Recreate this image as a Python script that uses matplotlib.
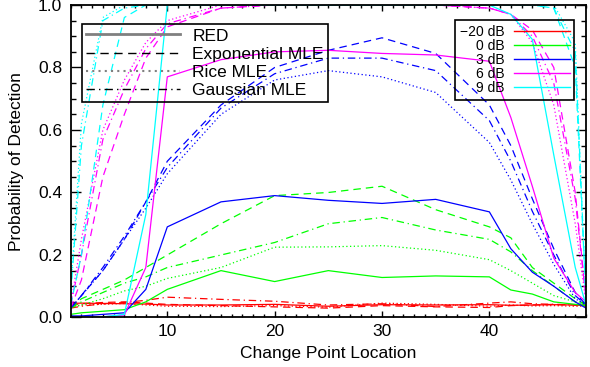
import matplotlib
matplotlib.use("Agg")
import matplotlib.pyplot as plt
from matplotlib.lines import Line2D
from matplotlib.ticker import MultipleLocator

plt.rcParams['font.family'] = ['Liberation Sans', 'DejaVu Sans']

# change point locations
x_loc = [1, 2, 4, 6, 8, 10, 15, 20, 25, 30, 35, 40, 42, 44, 46, 48, 49]

snr_labels = ['\u221220 dB', '0 dB', '3 dB', '6 dB', '9 dB']
snr_colors = ['#ff0000', '#00ff00', '#0000ff', '#ff00ff', '#00ffff']
method_labels = ['RED', 'Exponential MLE', 'Rice MLE', 'Gaussian MLE']

# -20 dB
red_m20 = [0.045, 0.046, 0.045, 0.044, 0.043, 0.040, 0.040, 0.042, 0.036, 0.041, 0.040, 0.041, 0.039, 0.040, 0.041, 0.040, 0.040]
exp_m20 = [0.040, 0.044, 0.048, 0.050, 0.046, 0.042, 0.038, 0.034, 0.030, 0.038, 0.034, 0.032, 0.038, 0.040, 0.042, 0.040, 0.039]
rice_m20 = [0.035, 0.040, 0.042, 0.045, 0.040, 0.036, 0.035, 0.038, 0.033, 0.046, 0.042, 0.036, 0.040, 0.037, 0.038, 0.036, 0.036]
gauss_m20 = [0.030, 0.036, 0.044, 0.048, 0.055, 0.065, 0.058, 0.052, 0.040, 0.044, 0.035, 0.046, 0.050, 0.044, 0.042, 0.040, 0.039]

# 0 dB
red_0 = [0.010, 0.015, 0.020, 0.025, 0.050, 0.090, 0.150, 0.115, 0.150, 0.128, 0.133, 0.130, 0.088, 0.075, 0.050, 0.042, 0.038]
exp_0 = [0.030, 0.060, 0.090, 0.120, 0.160, 0.200, 0.300, 0.390, 0.400, 0.420, 0.345, 0.290, 0.255, 0.160, 0.110, 0.060, 0.040]
rice_0 = [0.030, 0.040, 0.060, 0.085, 0.100, 0.125, 0.160, 0.225, 0.226, 0.230, 0.215, 0.185, 0.150, 0.110, 0.070, 0.050, 0.040]
gauss_0 = [0.030, 0.050, 0.080, 0.110, 0.130, 0.160, 0.200, 0.240, 0.300, 0.320, 0.280, 0.250, 0.210, 0.150, 0.100, 0.050, 0.040]

# 3 dB
red_3 = [0.005, 0.005, 0.010, 0.015, 0.090, 0.290, 0.370, 0.390, 0.375, 0.365, 0.378, 0.338, 0.220, 0.145, 0.100, 0.050, 0.030]
exp_3 = [0.030, 0.070, 0.150, 0.250, 0.370, 0.500, 0.680, 0.800, 0.855, 0.895, 0.845, 0.680, 0.550, 0.380, 0.220, 0.080, 0.040]
rice_3 = [0.030, 0.070, 0.150, 0.250, 0.350, 0.460, 0.650, 0.760, 0.790, 0.770, 0.720, 0.560, 0.440, 0.300, 0.170, 0.060, 0.040]
gauss_3 = [0.030, 0.070, 0.160, 0.260, 0.370, 0.480, 0.670, 0.780, 0.830, 0.830, 0.790, 0.630, 0.500, 0.340, 0.200, 0.070, 0.040]

# 6 dB
red_6 = [0.000, 0.000, 0.002, 0.008, 0.160, 0.770, 0.825, 0.850, 0.855, 0.845, 0.840, 0.820, 0.640, 0.420, 0.190, 0.080, 0.050]
exp_6 = [0.030, 0.120, 0.450, 0.650, 0.830, 0.930, 0.990, 1.000, 1.000, 1.000, 1.000, 0.990, 0.970, 0.920, 0.800, 0.400, 0.060]
rice_6 = [0.040, 0.250, 0.600, 0.760, 0.880, 0.950, 1.000, 1.000, 1.000, 1.000, 1.000, 0.990, 0.970, 0.880, 0.680, 0.300, 0.050]
gauss_6 = [0.040, 0.200, 0.570, 0.730, 0.860, 0.940, 0.990, 1.000, 1.000, 1.000, 1.000, 0.990, 0.970, 0.900, 0.750, 0.380, 0.060]

# 9 dB
red_9 = [0.000, 0.000, 0.002, 0.010, 0.330, 1.000, 1.000, 1.000, 1.000, 1.000, 1.000, 1.000, 0.970, 0.890, 0.520, 0.160, 0.040]
exp_9 = [0.040, 0.200, 0.680, 0.960, 1.000, 1.000, 1.000, 1.000, 1.000, 1.000, 1.000, 1.000, 1.000, 1.000, 0.990, 0.800, 0.060]
rice_9 = [0.080, 0.620, 0.960, 1.000, 1.000, 1.000, 1.000, 1.000, 1.000, 1.000, 1.000, 1.000, 1.000, 1.000, 1.000, 0.880, 0.050]
gauss_9 = [0.070, 0.550, 0.950, 0.990, 1.000, 1.000, 1.000, 1.000, 1.000, 1.000, 1.000, 1.000, 1.000, 1.000, 0.990, 0.850, 0.060]

series = [
    [red_m20, exp_m20, rice_m20, gauss_m20],
    [red_0, exp_0, rice_0, gauss_0],
    [red_3, exp_3, rice_3, gauss_3],
    [red_6, exp_6, rice_6, gauss_6],
    [red_9, exp_9, rice_9, gauss_9],
]

styles = ['-', (0, (6, 4)), (0, (1, 2)), (0, (6, 3, 1, 3))]

fig = plt.figure(figsize=(5.9, 3.67), dpi=100)
ax = fig.add_axes([0.1198, 0.1349, 0.8734, 0.8515])

for color, group in zip(snr_colors, series):
    for ls, vals in zip(styles, group):
        ax.plot(x_loc, vals, color=color, linestyle=ls, linewidth=0.9)

ax.set_xlim(1, 49)
ax.set_ylim(0, 1)
ax.xaxis.set_major_locator(MultipleLocator(10))
ax.xaxis.set_minor_locator(MultipleLocator(1))
ax.yaxis.set_major_locator(MultipleLocator(0.2))
ax.yaxis.set_minor_locator(MultipleLocator(0.05))
ax.yaxis.set_major_formatter(plt.FormatStrFormatter('%.1f'))
ax.tick_params(axis='both', which='both', direction='in', top=True, right=True,
               labelsize=12.5, width=1.0)
ax.tick_params(axis='y', which='major', length=7, pad=6)
ax.tick_params(axis='y', which='minor', length=3.5)
ax.tick_params(axis='x', which='major', length=4.5, pad=5)
ax.tick_params(axis='x', which='minor', length=2.2)
for sp in ax.spines.values():
    sp.set_linewidth(1.3)

ax.set_xlabel('Change Point Location', fontsize=12.5, labelpad=5)
ax.set_ylabel('Probability of Detection', fontsize=12.5, labelpad=10)

# method legend
method_handles = [
    Line2D([], [], color='#808080', linestyle='-', linewidth=2.0),
    Line2D([], [], color='black', linestyle=(0, (6, 4)), linewidth=1.0),
    Line2D([], [], color='#808080', linestyle=(0, (1, 2)), linewidth=1.5),
    Line2D([], [], color='black', linestyle=(0, (6, 3, 1, 3)), linewidth=1.0),
]
leg1 = ax.legend(method_handles, method_labels, loc='upper left',
                 bbox_to_anchor=(0.022, 0.939), borderaxespad=0,
                 fontsize=12.5, handlelength=5.4, handletextpad=0.7,
                 labelspacing=0.17, borderpad=0.25, fancybox=False,
                 framealpha=1, facecolor='none', edgecolor='black')
leg1.get_frame().set_linewidth(1.2)
ax.add_artist(leg1)

# SNR legend
snr_handles = [Line2D([], [], color=c, linestyle='-', linewidth=1.0) for c in snr_colors]
leg2 = ax.legend(snr_handles, snr_labels, loc='upper right',
                 bbox_to_anchor=(0.9777, 0.952), borderaxespad=0,
                 fontsize=10, handlelength=4.0, handletextpad=0.7,
                 labelspacing=0.0, borderpad=0.35, markerfirst=False,
                 fancybox=False, framealpha=1, facecolor='none', edgecolor='black')
leg2.get_frame().set_linewidth(1.2)

fig.savefig('out.png', dpi=100)
